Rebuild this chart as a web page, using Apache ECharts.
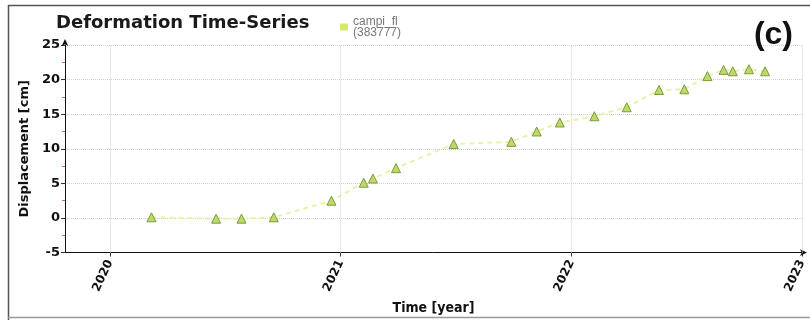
<!DOCTYPE html>
<html>
<head>
<meta charset="utf-8">
<script src="https://cdn.jsdelivr.net/npm/echarts@6/dist/echarts.min.js"></script>
<style>html,body{margin:0;padding:0;background:#fff}#c{width:810px;height:320px}</style>
</head>
<body>
<div id="c"></div>
<script>
// Decimal-year acquisition times
var times = [2020.18, 2020.46, 2020.57, 2020.71, 2020.96, 2021.10, 2021.14, 2021.24,
             2021.49, 2021.74, 2021.85, 2021.95, 2022.10, 2022.24, 2022.38, 2022.49,
             2022.59, 2022.66, 2022.70, 2022.77, 2022.84];
// Displacement [cm]
var displacement = [0.1, -0.1, -0.1, 0.1, 2.5, 5.1, 5.7, 7.2,
                    10.7, 11.0, 12.5, 13.8, 14.7, 16.0, 18.5, 18.6,
                    20.5, 21.4, 21.2, 21.5, 21.2];
var yearTicks = [2020, 2021, 2022, 2023];
var seriesName = 'campi_fl';
var seriesSub = '(383777)';

var points = times.map(function (t, i) { return [t, displacement[i]]; });

var chart = echarts.init(document.getElementById('c'), null, {renderer: 'canvas'});
var axisFont = 'DejaVu Sans';
chart.setOption({
  animation: false,
  backgroundColor: '#fff',
  title: [{
    text: 'Deformation Time-Series', left: 51, top: 9,
    textStyle: {fontFamily: 'DejaVu Sans', fontWeight: 'bold', fontSize: 18, color: '#1a1a1a'}
  }, {
    text: '(c)', right: 12, top: 14,
    textStyle: {fontFamily: 'Liberation Sans', fontWeight: 'bold', fontSize: 32, color: '#111'}
  }],
  legend: {
    left: 335, top: 6, itemWidth: 8, itemHeight: 7, itemGap: 4,
    icon: 'rect',
    data: [{name: seriesName, itemStyle: {color: '#d3ec70', borderWidth: 0}}],
    formatter: function (n) { return n + '\n' + seriesSub; },
    textStyle: {fontFamily: 'Liberation Sans', fontSize: 12, color: '#777', lineHeight: 11, padding: [10, 0, 0, 0]}
  },
  grid: {left: 65, right: 8, top: 45, bottom: 64},
  xAxis: {
    type: 'value', min: 2019.805, max: 2023,
    name: 'Time [year]', nameLocation: 'middle', nameGap: 46,
    nameTextStyle: {fontFamily: 'DejaVu Sans Condensed', fontWeight: 'bold', fontSize: 14, color: '#111'},
    axisLine: {show: true, onZero: false, lineStyle: {color: '#111', width: 1}, symbol: ['none', 'arrow'], symbolSize: [5, 7], symbolOffset: [0, 5]},
    axisTick: {show: true, customValues: yearTicks, length: 4, inside: false, lineStyle: {color: '#333'}},
    axisLabel: {customValues: yearTicks, rotate: 65, margin: 8,
      fontFamily: axisFont, fontWeight: 'bold', fontSize: 12, color: '#111',
      formatter: function (v) { return String(Math.round(v)); }},
    splitLine: {show: false}
  },
  yAxis: {
    type: 'value', min: -5, max: 25, interval: 5,
    name: 'Displacement [cm]', nameLocation: 'middle', nameGap: 28,
    nameTextStyle: {fontFamily: axisFont, fontWeight: 'bold', fontSize: 13, color: '#111'},
    axisLine: {show: true, lineStyle: {color: '#111', width: 1}, symbol: ['none', 'arrow'], symbolSize: [5, 7], symbolOffset: [0, 6]},
    axisTick: {show: true, length: 4, lineStyle: {color: '#333'}},
    minorTick: {show: true, splitNumber: 2, length: 3, lineStyle: {color: '#e06060'}},
    axisLabel: {fontFamily: axisFont, fontWeight: 'bold', fontSize: 13, color: '#111', margin: 5},
    splitLine: {show: true, lineStyle: {color: '#cfcfcf', type: 'dotted', width: 1}}
  },
  series: [{
    name: seriesName, type: 'line', data: points,
    symbol: 'triangle', symbolSize: 9,
    itemStyle: {color: '#bcd96a', borderColor: '#7f9a3a', borderWidth: 1},
    lineStyle: {color: '#e8f2a8', width: 2, type: [5, 4]},
    markLine: {
      silent: true, symbol: 'none', label: {show: false},
      lineStyle: {color: '#cfcfcf', type: 'dotted', width: 1},
      data: yearTicks.map(function (y) { return {xAxis: y}; })
    },
    z: 3
  }],
  graphic: [{
    type: 'polyline', silent: true,
    shape: {points: [[8.5, 320], [8.5, 5.5], [810, 5.5]]},
    style: {stroke: '#555', lineWidth: 1.5, fill: null}
  }, {
    type: 'line', silent: true,
    shape: {x1: 8, y1: 317.5, x2: 810, y2: 317.5},
    style: {stroke: '#999', lineWidth: 1.5}
  }]
});
</script>
</body>
</html>
